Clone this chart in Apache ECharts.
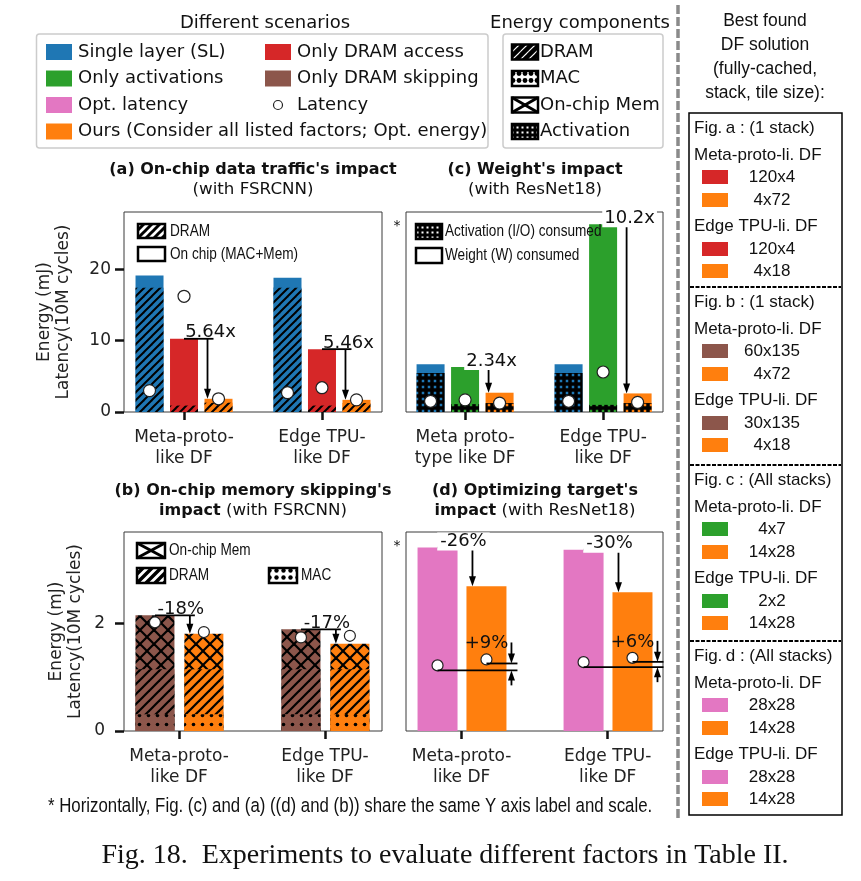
<!DOCTYPE html>
<html><head><meta charset="utf-8">
<script src="https://cdn.jsdelivr.net/npm/echarts@6/dist/echarts.min.js"></script>
<style>html,body{margin:0;padding:0;background:#fff}#c{width:861px;height:881px}</style>
</head><body><div id="c"></div>
<script>
// ================= DATA =================
const catLabelsAB = ['Meta-proto-\nlike DF', 'Edge TPU-\nlike DF'];
const catLabelsC = ['Meta proto-\ntype like DF', 'Edge TPU-\nlike DF'];
const catLabelsD = ['Meta-proto-\nlike DF', 'Edge TPU-\nlike DF'];
const yTicksA = [0, 10, 20];
const yTicksB = [0, 2];
// (a) On-chip data traffic's impact: DRAM part + on-chip part
const aSLDram = [17.4, 17.4];
const aSLOnChip = [1.7, 1.4];
const aDramOnlyDram = [0.9, 0.9];
const aDramOnlyOnChip = [9.35, 7.9];
const aOursDram = [1.3, 1.25];
const aOursOnChip = [0.55, 0.45];
const aLatSL = [3.0, 2.7];
const aLatDramOnly = [16.2, 3.4];
const aLatOurs = [1.85, 1.7];
const aRatioLabels = ['5.64x', '5.46x'];
// (c) Weight's impact: activation part + weight part
const cSLAct = [5.45, 5.45];
const cSLWeight = [1.25, 1.25];
const cActOnlyAct = [1.1, 1.0];
const cActOnlyWeight = [5.2, 25.3];
const cOursAct = [1.25, 1.25];
const cOursWeight = [1.45, 1.35];
const cLatSL = [1.5, 1.5];
const cLatActOnly = [1.7, 5.6];
const cLatOurs = [1.25, 1.35];
const cRatioLabels = ['2.34x', '10.2x'];
// (b) On-chip memory skipping's impact: MAC + DRAM + on-chip mem
const bSkipMac = [0.31, 0.31];
const bSkipDram = [0.84, 0.84];
const bSkipOnChip = [1.0, 0.74];
const bOursMac = [0.31, 0.31];
const bOursDram = [0.84, 0.84];
const bOursOnChip = [0.66, 0.47];
const bLatSkip = [2.02, 1.74];
const bLatOurs = [1.84, 1.77];
const bPctLabels = ['-18%', '-17%'];
// (d) Optimizing target's impact
const dOptLatEnergy = [3.41, 3.37];
const dOursEnergy = [2.69, 2.58];
const dLatOptLat = [1.22, 1.28];
const dLatOurs = [1.33, 1.36];
const dEnergyPctLabels = ['-26%', '-30%'];
const dLatPctLabels = ['+9%', '+6%'];
// right-hand table
const tableHeaders = ['Fig.\u2009a : (1 stack)', 'Fig.\u2009b : (1 stack)', 'Fig.\u2009c : (All stacks)', 'Fig.\u2009d : (All stacks)'];
const tableMeta = [['120x4', '4x72'], ['60x135', '4x72'], ['4x7', '14x28'], ['28x28', '14x28']];
const tableEdge = [['120x4', '4x18'], ['30x135', '4x18'], ['2x2', '14x28'], ['28x28', '14x28']];

// ================= STYLE =================
const BLUE = '#1f77b4', GREEN = '#2ca02c', PINK = '#e377c2', ORANGE = '#ff7f0e', RED = '#d62728', BROWN = '#8c564b';
const tableColors = [[RED, ORANGE], [BROWN, ORANGE], [GREEN, ORANGE], [PINK, ORANGE]];
const FONT = '"DejaVu Sans", Verdana, sans-serif';
const ARIAL = '"Liberation Sans", Arial, sans-serif';
const SERIF = '"Liberation Serif", "Times New Roman", serif';

function mk(w, h) { const c = document.createElement('canvas'); c.width = w; c.height = h; return c; }
function diag(bg, fg, s, lw) {
  const c = mk(s, s), x = c.getContext('2d');
  x.fillStyle = bg; x.fillRect(0, 0, s, s);
  x.strokeStyle = fg; x.lineWidth = lw; x.lineCap = 'square';
  for (let k = -1; k <= 1; k++) { x.beginPath(); x.moveTo(k * s, s); x.lineTo(k * s + s, 0); x.stroke(); }
  return { image: c, repeat: 'repeat' };
}
function cross(bg, fg, s, lw) {
  const c = mk(s, s), x = c.getContext('2d');
  x.fillStyle = bg; x.fillRect(0, 0, s, s);
  x.strokeStyle = fg; x.lineWidth = lw;
  for (let k = -1; k <= 1; k++) {
    x.beginPath(); x.moveTo(k * s, s); x.lineTo(k * s + s, 0); x.stroke();
    x.beginPath(); x.moveTo(k * s, 0); x.lineTo(k * s + s, s); x.stroke();
  }
  return { image: c, repeat: 'repeat' };
}
function dots(bg, fg, w, h, r) {
  const c = mk(w, h), x = c.getContext('2d');
  x.fillStyle = bg; x.fillRect(0, 0, w, h);
  x.fillStyle = fg; x.beginPath(); x.arc(w / 2, h / 2, r, 0, Math.PI * 2); x.fill();
  return { image: c, repeat: 'repeat' };
}
function gridPat(bg, fg, s, sq) {
  const c = mk(s, s), x = c.getContext('2d');
  x.fillStyle = bg; x.fillRect(0, 0, s, s);
  x.fillStyle = fg; x.fillRect((s - sq) / 2, (s - sq) / 2, sq, sq);
  return { image: c, repeat: 'repeat' };
}
const cum = (...arrs) => arrs[0].map((_, i) => arrs.reduce((s, a) => s + a[i], 0));

// ================= CHART =================
const chart = echarts.init(document.getElementById('c'));
const gridsDef = [
  { left: 124, top: 212, width: 258, height: 200 }, // (a)
  { left: 406, top: 212, width: 257, height: 200 }, // (c)
  { left: 124, top: 532, width: 258, height: 199 }, // (b)
  { left: 406, top: 532, width: 257, height: 199 }  // (d)
];
const xRanges = [[-0.435, 1.435], [-0.428, 1.434], [-0.377, 1.39], [-0.381, 1.379]];
const catSets = [catLabelsAB, catLabelsC, catLabelsAB, catLabelsD];
const yMax = [28, 28, 3.7, 3.7];
const yTickSets = [yTicksA, null, yTicksB, null];
const yLabelMargin = [13, 0, 19, 0];
const offAC = [-0.25, 0, 0.25];
const offBD = [-0.165, 0.17];

function bars(g, off, vals, color, w) {
  return { type: 'bar', xAxisIndex: g, yAxisIndex: g, barWidth: w, barGap: '-100%', silent: true,
    itemStyle: { color: color }, data: vals.map((v, i) => [i + off, v]), z: 2 };
}
function lat(g, offs, arrs, size) {
  const data = [];
  arrs.forEach((a, k) => a.forEach((v, i) => data.push([i + offs[k], v])));
  return { type: 'scatter', xAxisIndex: g, yAxisIndex: g, symbol: 'circle', symbolSize: size, silent: true, z: 20,
    itemStyle: { color: '#fff', borderColor: '#222', borderWidth: 1.2, opacity: 1 }, data: data };
}

const aSLTot = cum(aSLDram, aSLOnChip), aDOTot = cum(aDramOnlyDram, aDramOnlyOnChip), aOTot = cum(aOursDram, aOursOnChip);
const cSLTot = cum(cSLAct, cSLWeight), cAOTot = cum(cActOnlyAct, cActOnlyWeight), cOTot = cum(cOursAct, cOursWeight);
const bSTot = cum(bSkipMac, bSkipDram, bSkipOnChip), bOTot = cum(bOursMac, bOursDram, bOursOnChip);

const series = [
  // (a)
  bars(0, offAC[0], aSLTot, BLUE, 28), bars(0, offAC[0], aSLDram, diag(BLUE, '#000', 8, 2), 28),
  bars(0, offAC[1], aDOTot, RED, 28), bars(0, offAC[1], aDramOnlyDram, diag(RED, '#000', 8, 2), 28),
  bars(0, offAC[2], aOTot, ORANGE, 28), bars(0, offAC[2], aOursDram, diag(ORANGE, '#000', 8, 2), 28),
  lat(0, offAC, [aLatSL, aLatDramOnly, aLatOurs], 12),
  // (c)
  bars(1, offAC[0], cSLTot, BLUE, 28), bars(1, offAC[0], cSLAct, gridPat('#000', BLUE, 6, 2.5), 28),
  bars(1, offAC[1], cAOTot, GREEN, 28), bars(1, offAC[1], cActOnlyAct, gridPat('#000', GREEN, 6, 2.5), 28),
  bars(1, offAC[2], cOTot, ORANGE, 28), bars(1, offAC[2], cOursAct, gridPat('#000', ORANGE, 6, 2.5), 28),
  lat(1, offAC, [cLatSL, cLatActOnly, cLatOurs], 12),
  // (b)
  bars(2, offBD[0], bSTot, cross(BROWN, '#000', 14, 2.2), 39),
  bars(2, offBD[0], cum(bSkipMac, bSkipDram), diag(BROWN, '#000', 10, 2.2), 39),
  bars(2, offBD[0], bSkipMac, dots(BROWN, '#000', 9, 9, 1.8), 39),
  bars(2, offBD[1], bOTot, cross(ORANGE, '#000', 14, 2.2), 39),
  bars(2, offBD[1], cum(bOursMac, bOursDram), diag(ORANGE, '#000', 10, 2.2), 39),
  bars(2, offBD[1], bOursMac, dots(ORANGE, '#000', 9, 9, 1.8), 39),
  lat(2, offBD, [bLatSkip, bLatOurs], 11),
  // (d)
  bars(3, offBD[0], dOptLatEnergy, PINK, 40),
  bars(3, offBD[1], dOursEnergy, ORANGE, 40),
  lat(3, offBD, [dLatOptLat, dLatOurs], 11)
];

chart.setOption({
  animation: false,
  grid: gridsDef.map(g => Object.assign({ show: true, borderColor: '#3a3a3a', borderWidth: 1, backgroundColor: 'transparent' }, g)),
  xAxis: [0, 1, 2, 3].map(g => ({
    type: 'value', gridIndex: g, min: xRanges[g][0], max: xRanges[g][1], position: 'bottom',
    axisLine: { show: false, onZero: false }, splitLine: { show: false },
    axisTick: { show: true, customValues: [0, 1], length: 8, lineStyle: { color: '#111', width: 2.5 } },
    axisLabel: { customValues: [0, 1], formatter: v => catSets[g][Math.round(v)], fontFamily: FONT, fontSize: 17, lineHeight: 21, color: '#222', margin: 15 }
  })),
  yAxis: [0, 1, 2, 3].map(g => ({
    type: 'value', gridIndex: g, min: 0, max: yMax[g], position: 'left',
    axisLine: { show: false, onZero: false }, splitLine: { show: false },
    axisTick: yTickSets[g] ? { show: true, customValues: yTickSets[g], length: 9, lineStyle: { color: '#111', width: 2.5 } } : { show: false },
    axisLabel: yTickSets[g] ? { show: true, customValues: yTickSets[g], fontFamily: FONT, fontSize: 17, color: '#222', margin: yLabelMargin[g] } : { show: false }
  })),
  series: series
});

// ================= GRAPHICS =================
const G = [];
function T(x, y, text, font, extra) {
  const e = { type: 'text', x: x, y: y, z: 30, silent: true,
    style: Object.assign({ text: text, font: font, fill: '#111', textAlign: 'left', textVerticalAlign: 'middle' }, (extra && extra.style) || {}) };
  if (extra && extra.el) Object.assign(e, extra.el);
  G.push(e); return e;
}
function R(x, y, w, h, fill, stroke, lw, r) {
  G.push({ type: 'rect', z: 25, silent: true, shape: { x: x, y: y, width: w, height: h, r: r || 0 },
    style: { fill: fill, stroke: stroke || null, lineWidth: lw || 0 } });
}
function L(x1, y1, x2, y2, lw, stroke, dash) {
  G.push({ type: 'line', z: 26, silent: true, shape: { x1: x1, y1: y1, x2: x2, y2: y2 },
    style: { stroke: stroke || '#000', lineWidth: lw || 1.8, lineDash: dash || null } });
}
function arrow(x, y1, y2) {
  const dir = y2 > y1 ? 1 : -1;
  L(x, y1, x, y2 - dir * 6, 1.8);
  G.push({ type: 'polygon', z: 26, silent: true, shape: { points: [[x, y2], [x - 3.5, y2 - dir * 10], [x + 3.5, y2 - dir * 10]] }, style: { fill: '#000' } });
}
function xBox(x, y, w, h) { // box with a big X (on-chip memory legend key)
  R(x, y, w, h, '#fff', '#000', 2.5);
  L(x, y, x + w, y + h, 3); L(x, y + h, x + w, y, 3);
}
const P = (g, x, y) => chart.convertToPixel({ gridIndex: g }, [x, y]);

// vertical separator
L(678, 5, 678, 818, 3.5, '#8a8a8a', [9, 3]);

// ---- top legends ----
T(265, 23, 'Different scenarios', '18px ' + FONT, { style: { textAlign: 'center' } });
R(36.5, 34, 451.5, 114, '#fff', '#cccccc', 1.5, 3);
const legRows = [52, 78.5, 105, 131.5];
const legCol1 = [['Single layer (SL)', BLUE], ['Only activations', GREEN], ['Opt. latency', PINK], ['Ours (Consider all listed factors; Opt. energy)', ORANGE]];
const legCol2 = [['Only DRAM access', RED], ['Only DRAM skipping', BROWN], ['Latency', null]];
legCol1.forEach((it, k) => { R(46, legRows[k] - 8, 26, 16, it[1]); T(78, legRows[k], it[0], '18px ' + FONT); });
legCol2.forEach((it, k) => {
  if (it[1]) R(265, legRows[k] - 8, 26, 16, it[1]);
  else G.push({ type: 'circle', z: 26, silent: true, shape: { cx: 278, cy: legRows[k], r: 4.5 }, style: { fill: '#fff', stroke: '#222', lineWidth: 1.2 } });
  T(297, legRows[k], it[0], '18px ' + FONT);
});
T(580, 23, 'Energy components', '18px ' + FONT, { style: { textAlign: 'center' } });
R(503, 34, 160, 114, '#fff', '#cccccc', 1.5, 3);
const ecItems = [['DRAM', diag('#fff', '#000', 8, 4.5)], ['MAC', dots('#fff', '#000', 6, 7, 2.4)], ['On-chip Mem', null], ['Activation', gridPat('#000', '#fff', 5, 2)]];
ecItems.forEach((it, k) => {
  if (it[1]) R(512, legRows[k] - 7.5, 26, 15, it[1], '#000', 2.5);
  else xBox(512, legRows[k] - 7.5, 26, 15);
  T(540, legRows[k], it[0], '18px ' + FONT);
});

// ---- panel titles ----
const boldF = 'bold 16px ' + FONT, normF = '16.7px ' + FONT;
T(253, 170, "(a) On-chip data traffic's impact", boldF, { style: { textAlign: 'center' } });
T(253, 190, '(with FSRCNN)', normF, { style: { textAlign: 'center' } });
T(535, 170, "(c) Weight's impact", boldF, { style: { textAlign: 'center' } });
T(535, 190, '(with ResNet18)', normF, { style: { textAlign: 'center' } });
T(253, 491, "(b) On-chip memory skipping's", boldF, { style: { textAlign: 'center' } });
T(253, 511, '{b|impact} (with FSRCNN)', normF, { style: { textAlign: 'center', rich: { b: { font: boldF, fill: '#111' } } } });
T(535, 491, "(d) Optimizing target's", boldF, { style: { textAlign: 'center' } });
T(535, 511, '{b|impact} (with ResNet18)', normF, { style: { textAlign: 'center', rich: { b: { font: boldF, fill: '#111' } } } });

// ---- y-axis titles ----
[[45, 64, 312], [57, 76, 631.5]].forEach(p => {
  T(p[0], p[2], 'Energy (mJ)', '17px ' + FONT, { style: { textAlign: 'center', fill: '#222' }, el: { rotation: Math.PI / 2 } });
  T(p[1], p[2], 'Latency(10M cycles)', '17px ' + FONT, { style: { textAlign: 'center', fill: '#222' }, el: { rotation: Math.PI / 2 } });
});
T(397, 226, '*', '14px ' + FONT, { style: { textAlign: 'center' } });
T(397, 546, '*', '14px ' + FONT, { style: { textAlign: 'center' } });

// ---- in-panel legends ----
const nar = { el: { scaleX: 0.8 } };
const NF = '17px ' + ARIAL;
R(138, 224, 27, 14, diag('#fff', '#000', 8, 3), '#000', 2.5); T(170, 231, 'DRAM', NF, nar);
R(138, 247, 27, 14, '#fff', '#000', 2.5); T(170, 254, 'On chip (MAC+Mem)', NF, nar);
R(416, 224, 26, 15, gridPat('#000', '#fff', 5, 2), '#000', 2.5); T(445, 231.5, 'Activation (I/O) consumed', NF, nar);
R(416, 248, 26, 15, '#fff', '#000', 2.5); T(445, 255.5, 'Weight (W) consumed', NF, nar);
xBox(137, 543, 28, 15); T(169, 550.5, 'On-chip Mem', NF, nar);
R(137, 568, 28, 15, diag('#fff', '#000', 9, 3.5), '#000', 2.5); T(169, 575.5, 'DRAM', NF, nar);
R(269, 568, 28, 15, dots('#fff', '#000', 7, 7, 2.2), '#000', 2.5); T(301, 575.5, 'MAC', NF, nar);

// ---- annotations ----
const AF = '18px ' + FONT;
[0, 1].forEach(i => {
  // (a)
  let m = P(0, i + offAC[1], aDOTot[i]), o = P(0, i + offAC[2], aOTot[i]);
  let ax = o[0] - 11;
  L(m[0], m[1], ax + 6, m[1], 1.8); arrow(ax, m[1], o[1]);
  T(ax + 3, m[1] + 3, aRatioLabels[i], AF, { style: { textAlign: 'center', textVerticalAlign: 'bottom' } });
  // (c)
  m = P(1, i + offAC[1], cAOTot[i]); o = P(1, i + offAC[2], cOTot[i]);
  ax = o[0] - 11;
  L(m[0], m[1], ax + 6, m[1], 1.8); arrow(ax, m[1], o[1]);
  T(ax + 3, m[1] + 3, cRatioLabels[i], AF, { style: { textAlign: 'center', textVerticalAlign: 'bottom', backgroundColor: '#fff', padding: [0, 2, 0, 2] } });
  // (b)
  m = P(2, i + offBD[0], bSTot[i]); o = P(2, i + offBD[1], bOTot[i]);
  ax = o[0] - 14;
  L(m[0], m[1], ax + 5, m[1], 1.8); arrow(ax, m[1], o[1]);
  T(ax - 9, m[1] + 3, bPctLabels[i], AF, { style: { textAlign: 'center', textVerticalAlign: 'bottom' } });
  // (d) energy
  m = P(3, i + offBD[0], dOptLatEnergy[i]); o = P(3, i + offBD[1], dOursEnergy[i]);
  ax = o[0] - 14;
  L(m[0], m[1], ax + 5, m[1], 1.8); arrow(ax, m[1], o[1]);
  T(ax - 9, m[1] + 3, dEnergyPctLabels[i], AF, { style: { textAlign: 'center', textVerticalAlign: 'bottom', backgroundColor: '#fff', padding: [0, 3, 0, 3] } });
  // (d) latency
  const pl = P(3, i + offBD[0], dLatOptLat[i]), ol = P(3, i + offBD[1], dLatOurs[i]);
  const E = ol[0] + 31, yP = pl[1] + 5, yO = ol[1] + 4;
  L(pl[0], yP, E, yP, 1.8); L(ol[0], yO, E, yO, 1.8);
  arrow(E - 6, yO - 21, yO); arrow(E - 6, yP + 15, yP);
  T(ol[0], yO - 20, dLatPctLabels[i], AF, { style: { textAlign: 'center' } });
});

// ---- right table ----
['Best found', 'DF solution', '(fully-cached,', 'stack, tile size):'].forEach((s, k) =>
  T(765, 21 + k * 24, s, '17.5px ' + ARIAL, { style: { textAlign: 'center' } }));
R(689, 113, 153, 702, null, '#000', 1.5);
const secTop = [113, 287, 465, 641];
secTop.forEach((y0, s) => {
  if (s > 0) L(690, y0, 841, y0, 2, '#000', [4, 1.5]);
  T(694, y0 + 15, tableHeaders[s], '17px ' + ARIAL);
  T(694, y0 + 42, 'Meta-proto-li. DF', '17px ' + ARIAL);
  T(694, y0 + 113, 'Edge TPU-li. DF', '17px ' + ARIAL);
  [[64, tableMeta[s][0], 0], [87, tableMeta[s][1], 1], [136, tableEdge[s][0], 0], [158, tableEdge[s][1], 1]].forEach(r => {
    R(702, y0 + r[0] - 7, 26, 14, tableColors[s][r[2]]);
    T(772, y0 + r[0], r[1], '17px ' + ARIAL, { style: { textAlign: 'center' } });
  });
});

// ---- footnote and caption ----
T(48, 806, '* Horizontally, Fig. (c) and (a) ((d) and (b)) share the same Y axis label and scale.', '20.5px ' + ARIAL, { el: { scaleX: 0.82 } });
T(445, 856, 'Fig. 18.  Experiments to evaluate different factors in Table II.', '28px ' + SERIF, { style: { textAlign: 'center' } });

chart.setOption({ graphic: { elements: G } });
</script></body></html>
